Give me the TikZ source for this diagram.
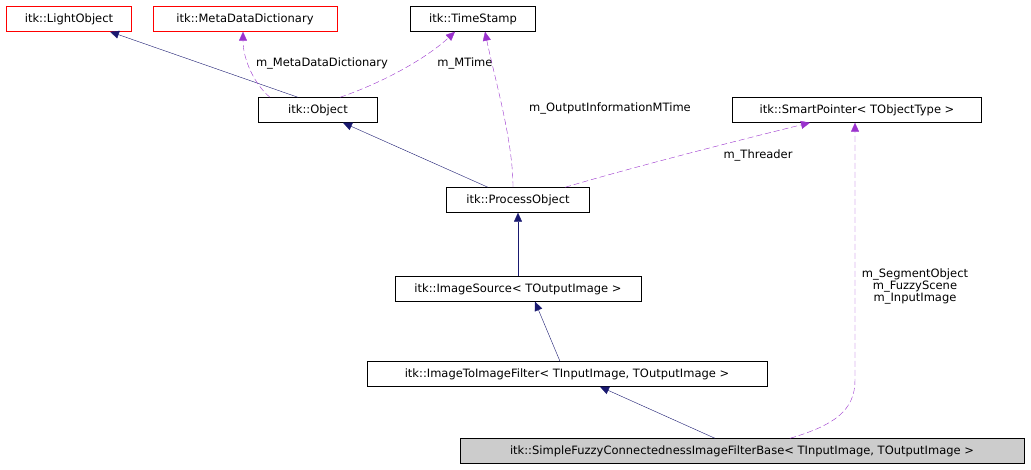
\documentclass[tikz,border=0pt]{standalone}
\usepackage{fontspec}
\setmainfont{DejaVu Sans}
\usetikzlibrary{arrows.meta}
\definecolor{edgeblue}{HTML}{191970}
\definecolor{edgepurple}{HTML}{9A32CD}
\tikzset{
  cls/.style={draw=black, fill=white, minimum height=25pt, inner sep=2pt, font=\fontsize{11.5}{12}\selectfont},
  ext/.style={cls, draw=red},
  inh/.style={draw=edgeblue, -{Triangle[length=9pt,width=8pt]}},
  use/.style={draw=edgepurple, dashed, dash pattern=on 6pt off 3pt, -{Triangle[length=9pt,width=8pt]}},
  lbl/.style={font=\fontsize{11.5}{12}\selectfont, align=center},
}
\begin{document}
\begin{tikzpicture}[x=1pt,y=-1pt]
  \useasboundingbox (0,0) rectangle (1031,469);
  \node[ext, minimum width=125pt] (light) at (69,19) {itk::LightObject};
  \node[ext, minimum width=184pt] (meta) at (245,19) {itk::MetaDataDictionary};
  \node[cls, minimum width=125pt] (stamp) at (473,19) {itk::TimeStamp};
  \node[cls, minimum width=119pt] (object) at (318,110) {itk::Object};
  \node[cls, minimum width=249pt] (smart) at (857,110) {itk::SmartPointer< TObjectType >};
  \node[cls, minimum width=143pt] (process) at (518,200) {itk::ProcessObject};
  \node[cls, minimum width=246pt] (source) at (518,289) {itk::ImageSource< TOutputImage >};
  \node[cls, minimum width=400pt] (filter) at (567,374) {itk::ImageToImageFilter< TInputImage, TOutputImage >};
  \node[cls, fill=lightgray!80, minimum width=564pt] (fuzzy) at (742,451) {itk::SimpleFuzzyConnectednessImageFilterBase< TInputImage, TOutputImage >};
  % inheritance
  \draw[inh] (object.north) ++(-20,0) coordinate (o1) -- (light.south -| 110,0);
  \draw[inh] (process.north) ++(-30,0) -- (object.south -| 343,0);
  \draw[inh] (source) -- (process);
  \draw[inh] (filter.north) ++(-7,0) -- (source.south -| 535,0);
  \draw[inh] (fuzzy.north) ++(-27,0) -- (filter.south -| 600,0);
  % members
  \draw[use] (object.north) ++(-48,0) .. controls (255,85) and (243,60) .. (meta.south -| 243,0);
  \node[lbl] (lmeta) at (322,63) {m\_MetaDataDictionary};
  \draw[use] (object.north) ++(22,0) .. controls (390,80) and (430,55) .. (stamp.south -| 455,0);
  \node[lbl] (lmtime) at (465,63) {m\_MTime};
  \draw[use] (process.north) ++(-5,0) .. controls (513,140) and (495,80) .. (stamp.south -| 485,0);
  \node[lbl] (lout) at (610,108) {m\_OutputInformationMTime};
  \draw[use] (process.north) ++(47,0) .. controls (640,165) and (760,135) .. (smart.south -| 810,0);
  \node[lbl] (lthr) at (758,155) {m\_Threader};
  \draw[use] (fuzzy.north) ++(48,0) .. controls (835,425) and (855,410) .. (855,380) -- (smart.south -| 855,0);
  \node[lbl] (lseg) at (915,286) {m\_SegmentObject\\m\_FuzzyScene\\m\_InputImage};
\end{tikzpicture}
\end{document}
